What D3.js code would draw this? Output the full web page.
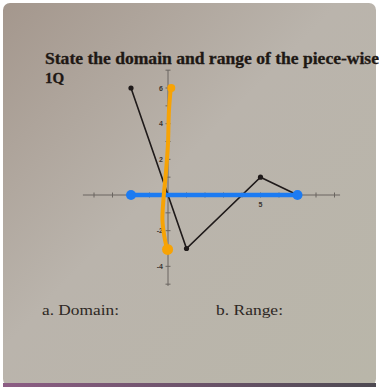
<!DOCTYPE html>
<html><head><meta charset="utf-8">
<script src="https://cdn.jsdelivr.net/npm/d3@7"></script>
<style>html,body{margin:0;padding:0;background:#fff;}svg{display:block;}</style>
</head><body>
<script>
// ---- data ----
const titleText = "State the domain and range of the piece-wise";
const problemLabel = "1Q";
const answerLabels = ["a. Domain:", "b. Range:"];
const fnX = [-2, 1, 5, 7];
const fnY = [6, -3, 1, 0];
const dotX = [-2, 1, 5];
const dotY = [6, -3, 1];
const domainX = [-2, 7];
const domainY = [0, 0];
const rangeX = [0.15, 0.05, 0, -0.1, -0.25, -0.3, -0.2, -0.05];
const rangeY = [6, 4.7, 2.9, 1.4, -0.3, -1.4, -2.3, -3.05];
const yTickLabels = [6, 4, 2, -2, -4];
const xTickLabels = [5];
const xTicks = d3.range(-4, 10);
const yTicks = d3.range(-5, 8);

const W = 379, H = 387;
const svg = d3.select("body").append("svg").attr("width", W).attr("height", H);
const defs = svg.append("defs");
const g1 = defs.append("linearGradient").attr("id", "paper").attr("x1", 0).attr("y1", 0).attr("x2", 1).attr("y2", 1);
g1.append("stop").attr("offset", 0).attr("stop-color", "#a4978d");
g1.append("stop").attr("offset", 0.45).attr("stop-color", "#bab4ac");
g1.append("stop").attr("offset", 1).attr("stop-color", "#b9b6a9");
const g2 = defs.append("linearGradient").attr("id", "strip").attr("x1", 0).attr("x2", 1);
g2.append("stop").attr("offset", 0).attr("stop-color", "#8c5d84");
g2.append("stop").attr("offset", 1).attr("stop-color", "#4e4a52");

svg.append("rect").attr("x", 3).attr("y", 3).attr("width", 373).attr("height", 383)
  .attr("rx", 7).attr("fill", "url(#paper)");
svg.append("rect").attr("x", 3).attr("y", 383).attr("width", 373).attr("height", 4)
  .attr("fill", "url(#strip)");

// title
svg.append("text").attr("x", 45).attr("y", 64).text(titleText)
  .attr("font-family", "Liberation Serif").attr("font-weight", "bold").attr("font-size", 16)
  .attr("fill", "#1e1814").attr("stroke", "#1e1814").attr("stroke-width", 0.3)
  .attr("textLength", 334).attr("lengthAdjust", "spacingAndGlyphs");
svg.append("text").attr("x", 45).attr("y", 83).text(problemLabel)
  .attr("font-family", "Liberation Serif").attr("font-weight", "bold").attr("font-size", 15)
  .attr("fill", "#1e1814").attr("stroke", "#1e1814").attr("stroke-width", 0.3);

svg.selectAll("text.ans").data(answerLabels).join("text").attr("class", "ans")
  .attr("x", (d, i) => [42, 216][i]).attr("y", 315).text(d => d)
  .attr("font-family", "Liberation Serif").attr("font-size", 15).attr("fill", "#2e2824")
  .attr("textLength", (d, i) => [77, 67][i]).attr("lengthAdjust", "spacingAndGlyphs");

// scales
const x = d3.scaleLinear().domain([0, 9]).range([168, 334.5]);
const y = d3.scaleLinear().domain([0, 6]).range([195, 88]);

const axisColor = "#6a6560";
const ax = svg.append("g");
ax.append("line").attr("x1", x(-4.6)).attr("x2", x(9.3)).attr("y1", y(0)).attr("y2", y(0))
  .attr("stroke", axisColor).attr("stroke-width", 1);
ax.append("line").attr("x1", x(0)).attr("x2", x(0)).attr("y1", y(7)).attr("y2", y(-5.1))
  .attr("stroke", axisColor).attr("stroke-width", 1);
ax.selectAll("line.xt").data(xTicks).join("line").attr("class", "xt")
  .attr("x1", d => x(d)).attr("x2", d => x(d)).attr("y1", y(0) - 2.5).attr("y2", y(0) + 2.5)
  .attr("stroke", axisColor);
ax.selectAll("line.yt").data(yTicks).join("line").attr("class", "yt")
  .attr("y1", d => y(d)).attr("y2", d => y(d)).attr("x1", x(0) - 2.5).attr("x2", x(0) + 2.5)
  .attr("stroke", axisColor);
ax.selectAll("text.yl").data(yTickLabels).join("text").attr("class", "yl")
  .attr("x", x(0) - 5).attr("y", d => y(d) + 2.5).attr("text-anchor", "end").text(d => d)
  .attr("font-family", "Liberation Sans").attr("font-weight", "bold").attr("font-size", 7).attr("fill", "#3a3530");
ax.selectAll("text.xl").data(xTickLabels).join("text").attr("class", "xl")
  .attr("x", d => x(d)).attr("y", y(0) + 12).attr("text-anchor", "middle").text(d => d)
  .attr("font-family", "Liberation Sans").attr("font-weight", "bold").attr("font-size", 7).attr("fill", "#3a3530");

// function graph
const fnPts = fnX.map((v, i) => [v, fnY[i]]);
svg.append("path").attr("d", d3.line().x(d => x(d[0])).y(d => y(d[1]))(fnPts))
  .attr("fill", "none").attr("stroke", "#1f1a1a").attr("stroke-width", 1.6);
svg.selectAll("circle.fd").data(dotX.map((v, i) => [v, dotY[i]])).join("circle").attr("class", "fd")
  .attr("cx", d => x(d[0])).attr("cy", d => y(d[1])).attr("r", 2.6).attr("fill", "#1f1a1a");

// domain (blue)
const blue = "#1c7bf2";
const dPts = domainX.map((v, i) => [v, domainY[i]]);
svg.append("path").attr("d", d3.line().x(d => x(d[0])).y(d => y(d[1]))(dPts))
  .attr("fill", "none").attr("stroke", blue).attr("stroke-width", 4.5).attr("stroke-linecap", "round");
svg.selectAll("circle.bd").data(dPts).join("circle").attr("class", "bd")
  .attr("cx", d => x(d[0])).attr("cy", d => y(d[1])).attr("r", 5).attr("fill", blue);

// range (orange)
const orange = "#f7a305";
const rPts = rangeX.map((v, i) => [v, rangeY[i]]);
svg.append("path").attr("d", d3.line().curve(d3.curveCatmullRom).x(d => x(d[0])).y(d => y(d[1]))(rPts))
  .attr("fill", "none").attr("stroke", orange).attr("stroke-width", 4).attr("stroke-linecap", "round");
const rEnds = [rPts[0], rPts[rPts.length - 1]];
svg.selectAll("circle.od").data(rEnds).join("circle").attr("class", "od")
  .attr("cx", d => x(d[0]) + 0.5).attr("cy", d => y(d[1])).attr("r", (d, i) => [4, 5.5][i]).attr("fill", orange);
</script>
</body></html>
